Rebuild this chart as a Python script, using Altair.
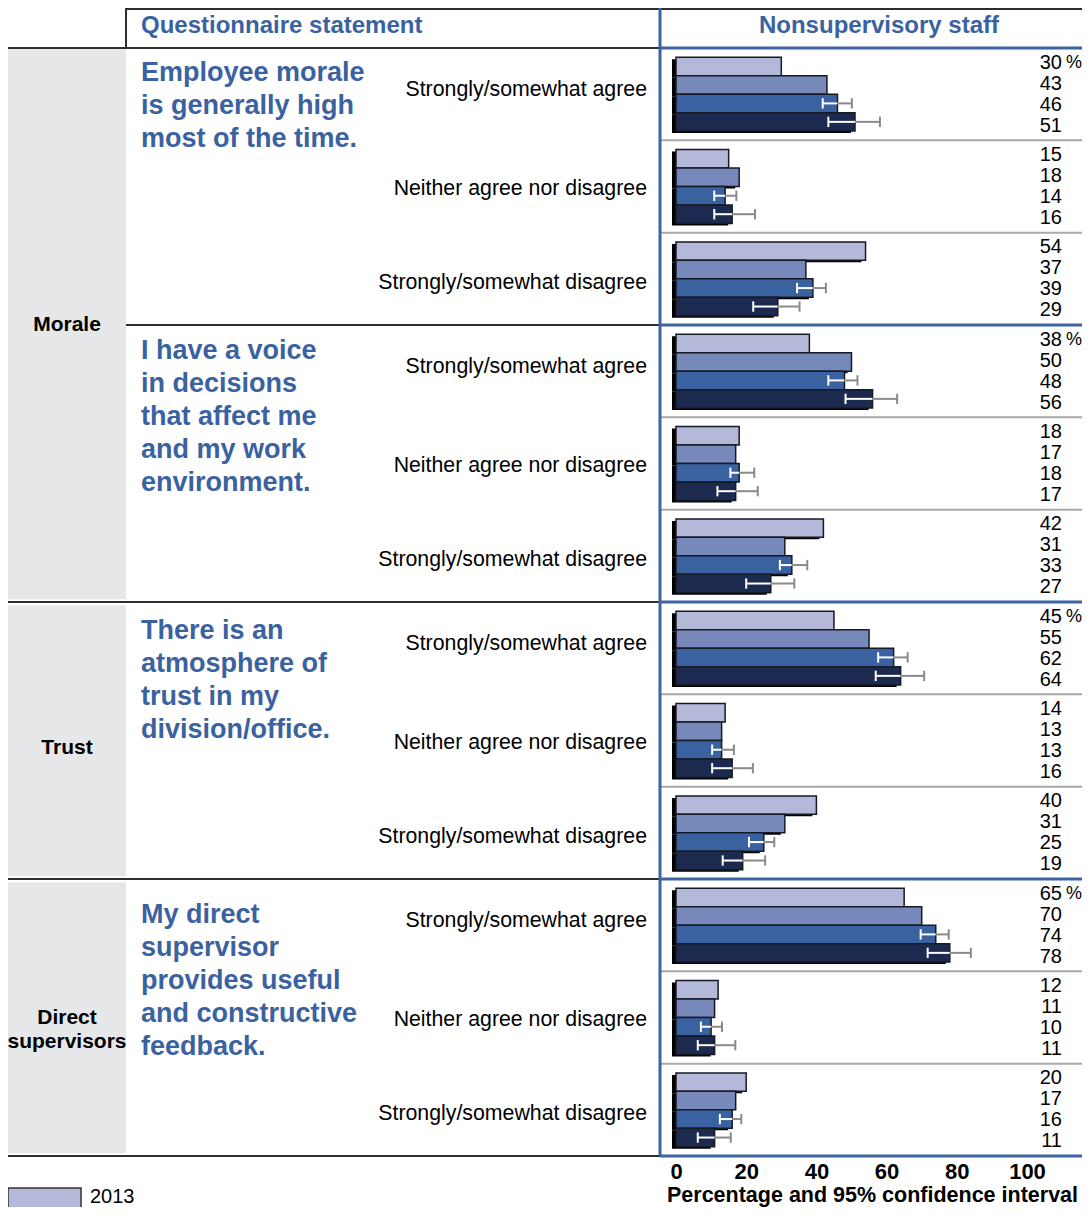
import altair as alt
import pandas as pd

# ---------------- data ----------------
categories = ["Morale", "Trust", "Direct supervisors"]
statement_category = [0, 0, 1, 2]
statements = [
    ["Employee morale", "is generally high", "most of the time."],
    ["I have a voice", "in decisions", "that affect me", "and my work", "environment."],
    ["There is an", "atmosphere of", "trust in my", "division/office."],
    ["My direct", "supervisor", "provides useful", "and constructive", "feedback."],
]
responses = ["Strongly/somewhat agree", "Neither agree nor disagree", "Strongly/somewhat disagree"]
years = ["2013", "2015", "2017", "2019"]
year_colors = ["#b4b9d9", "#7788ba", "#3a62a0", "#1b2a4e"]

# percentages: statement x response x year
values = [
    [[30, 43, 46, 51], [15, 18, 14, 16], [54, 37, 39, 29]],
    [[38, 50, 48, 56], [18, 17, 18, 17], [42, 31, 33, 27]],
    [[45, 55, 62, 64], [14, 13, 13, 16], [40, 31, 25, 19]],
    [[65, 70, 74, 78], [12, 11, 10, 11], [20, 17, 16, 11]],
]
# 95% confidence intervals for the last two years
ci_low = [
    [[41.8, 43.4], [10.9, 10.9], [34.5, 22.0]],
    [[43.4, 48.3], [15.5, 11.8], [29.6, 20.0]],
    [[57.6, 56.9], [10.3, 10.3], [20.8, 13.3]],
    [[69.7, 71.7], [7.1, 6.2], [12.5, 6.2]],
]
ci_high = [
    [[50.1, 58.1], [17.2, 22.5], [42.7, 35.2]],
    [[51.7, 63.0], [22.3, 23.3], [37.4, 33.7]],
    [[66.0, 70.7], [16.5, 21.9], [28.0, 25.4]],
    [[77.7, 84.0], [13.1, 16.9], [18.6, 15.6]],
]
axis_ticks = [0, 20, 40, 60, 80, 100]
header_left = "Questionnaire statement"
header_right = "Nonsupervisory staff"
axis_title = "Percentage and 95% confidence interval"

# ---------------- layout ----------------
FONT = "Liberation Sans"
BLUE = "#3b62a0"
LINE_BLUE = "#3e63a3"
PLOT_W = 1074
PLOT_H = 1148
HEADER_H = 40
U = (PLOT_H - HEADER_H) / 60.0          # px per row unit
X0_PX = 668.0                           # plot px of value 0
PX_PER = 3.51                           # px per percentage point
x_dom = [-X0_PX / PX_PER, (PLOT_W - X0_PX) / PX_PER]
y_dom = [-HEADER_H / U, 60]
PANEL_X = 652
LEFT_COL = 118

xs = alt.Scale(domain=x_dom, nice=False, zero=False)
ys = alt.Scale(domain=y_dom, reverse=True, nice=False, zero=False)
xaxis = alt.Axis(values=axis_ticks, title=axis_title, domain=False, ticks=False, tickSize=0,
                 grid=False, labelFont=FONT, labelFontSize=22, labelFontWeight="bold",
                 labelColor="black", labelPadding=5, titleFont=FONT, titleFontSize=21.5,
                 titleFontWeight="bold", titleColor="black", titleX=864, titleY=39,
                 titleAlign="center", titleBaseline="middle")


def X(f):
    return alt.X(f, type="quantitative", scale=xs, axis=xaxis)


def Y(f):
    return alt.Y(f, type="quantitative", scale=ys, axis=None)


bar_rows, err_rows, resp_rows = [], [], []
resp_off = [-0.23, 0.12, 0.22]
for s in range(len(statements)):
    for r in range(len(responses)):
        center = 15 * s + 5 * r + 2.5
        resp_rows.append({"y": center + resp_off[r], "text": responses[r]})
        for k in range(len(years)):
            top = 15 * s + 5 * r + 0.5 + k
            v = values[s][r][k]
            bar_rows.append({"year": years[k], "start": 0, "value": v, "top": top, "bot": top + 1,
                             "lab_y": center + (k - 1.5) * 1.137, "label": str(v),
                             "first": (r == 0 and k == 0)})
            if k >= 2:
                yc = top + 0.5
                err_rows.append({"value": v, "low": ci_low[s][r][k - 2], "high": ci_high[s][r][k - 2],
                                 "yc": yc, "c1": yc - 0.28, "c2": yc + 0.28})
bars = pd.DataFrame(bar_rows)
errs = pd.DataFrame(err_rows)
resp_df = pd.DataFrame(resp_rows)

# statement text lines
first_off = [25, 26, 29, 36]
st_rows = []
for s, lines in enumerate(statements):
    for i, line in enumerate(lines):
        st_rows.append({"y": 15 * s + (first_off[s] + 33 * i) / U, "text": line})
st_df = pd.DataFrame(st_rows)

# category blocks
cat_rows = []
for c, name in enumerate(categories):
    idx = [s for s, cc in enumerate(statement_category) if cc == c]
    y1, y2 = 15 * min(idx), 15 * (max(idx) + 1)
    cat_rows.append({"name": name, "y1": y1 + (0.17 if y1 > 0 else 0), "y2": y2 - 0.15,
                     "yc": (y1 + y2) / 2 + (0.4 if name == "Trust" else 0)})
cat_df = pd.DataFrame(cat_rows)

black_full = pd.DataFrame({"u": [0] + [15 * (max(s for s, cc in enumerate(statement_category) if cc == c) + 1)
                                       for c in range(len(categories))]})
black_part = pd.DataFrame({"u": [15 * s for s in range(1, len(statements))
                                 if statement_category[s] == statement_category[s - 1]]})
blue_lines = pd.DataFrame({"u": [15 * s for s in range(len(statements) + 1)]})
gray_lines = pd.DataFrame({"u": [15 * s + 5 * r for s in range(len(statements)) for r in (1, 2)]})
one = pd.DataFrame({"a": [0]})

fill_scale = alt.Scale(domain=years, range=year_colors)

layers = []
# left gray column
layers.append(alt.Chart(cat_df).mark_rect(color="#e6e7e9").encode(
    x=alt.value(0), x2=alt.value(LEFT_COL), y=Y("y1"), y2=alt.Y2("y2")))
# lines
layers.append(alt.Chart(black_full).mark_rule(color="#2e2e2e", strokeWidth=2).encode(
    x=alt.value(0), x2=alt.value(PANEL_X), y=Y("u")))
layers.append(alt.Chart(black_part).mark_rule(color="#2e2e2e", strokeWidth=2).encode(
    x=alt.value(LEFT_COL), x2=alt.value(PANEL_X), y=Y("u")))
layers.append(alt.Chart(gray_lines).mark_rule(color="#a9a9a9", strokeWidth=2).encode(
    x=alt.value(PANEL_X), x2=alt.value(PLOT_W), y=Y("u")))
layers.append(alt.Chart(blue_lines).mark_rule(color=LINE_BLUE, strokeWidth=3).encode(
    x=alt.value(PANEL_X), x2=alt.value(PLOT_W), y=Y("u")))
layers.append(alt.Chart(one).mark_rule(color="#2e2e2e", strokeWidth=2).encode(
    x=alt.value(LEFT_COL), x2=alt.value(PLOT_W), y=alt.value(1)))
layers.append(alt.Chart(one).mark_rule(color="#2e2e2e", strokeWidth=2).encode(
    x=alt.value(LEFT_COL), y=alt.value(0), y2=alt.value(HEADER_H)))
layers.append(alt.Chart(one).mark_rule(color=LINE_BLUE, strokeWidth=3).encode(
    x=alt.value(PANEL_X), y=alt.value(0), y2=alt.value(PLOT_H)))
# headers
layers.append(alt.Chart(one).mark_text(text=header_left, font=FONT, fontSize=24, fontWeight="bold",
                                       color=BLUE, align="left", baseline="middle").encode(
    x=alt.value(133), y=alt.value(18)))
layers.append(alt.Chart(one).mark_text(text=header_right, font=FONT, fontSize=24, fontWeight="bold",
                                       color=BLUE, align="center", baseline="middle").encode(
    x=alt.value(871), y=alt.value(18)))
# category labels
layers.append(alt.Chart(cat_df).mark_text(font=FONT, fontSize=21, fontWeight="bold", color="black",
                                          align="center", baseline="middle", lineBreak=" ",
                                          lineHeight=24).encode(
    x=alt.value(LEFT_COL / 2), y=Y("yc"), text="name:N"))
# statements
layers.append(alt.Chart(st_df).mark_text(font=FONT, fontSize=27, fontWeight="bold", color=BLUE,
                                         align="left", baseline="middle").encode(
    x=alt.value(133), y=Y("y"), text="text:N"))
# response labels
layers.append(alt.Chart(resp_df).mark_text(font=FONT, fontSize=21.3, color="black",
                                           align="right", baseline="middle").encode(
    x=alt.value(639), y=Y("y"), text="text:N"))
# bar shadows and bars
layers.append(alt.Chart(bars).mark_rect(color="black", xOffset=-4, x2Offset=-4, yOffset=2, y2Offset=2).encode(
    x=X("start"), x2=alt.X2("value"), y=Y("top"), y2=alt.Y2("bot")))
layers.append(alt.Chart(bars).mark_rect(stroke="#161a26", strokeWidth=1.5).encode(
    x=X("start"), x2=alt.X2("value"), y=Y("top"), y2=alt.Y2("bot"),
    fill=alt.Fill("year:N", scale=fill_scale, legend=None)))
# error bars
layers.append(alt.Chart(errs).mark_rule(color="white", strokeWidth=2).encode(
    x=X("low"), x2=alt.X2("value"), y=Y("yc")))
layers.append(alt.Chart(errs).mark_rule(color="#8a8a8a", strokeWidth=2).encode(
    x=X("value"), x2=alt.X2("high"), y=Y("yc")))
layers.append(alt.Chart(errs).mark_rule(color="white", strokeWidth=2).encode(
    x=X("low"), y=Y("c1"), y2=alt.Y2("c2")))
layers.append(alt.Chart(errs).mark_rule(color="#8a8a8a", strokeWidth=2).encode(
    x=X("high"), y=Y("c1"), y2=alt.Y2("c2")))
# value labels
layers.append(alt.Chart(bars).mark_text(font=FONT, fontSize=20, color="black", align="right",
                                        baseline="middle").encode(
    x=alt.value(1054), y=Y("lab_y"), text="label:N"))
layers.append(alt.Chart(bars).transform_filter("datum.first").mark_text(
    text="%", font=FONT, fontSize=18, color="black", align="left", baseline="middle").encode(
    x=alt.value(1058), y=Y("lab_y")))
# legend (first entry)
leg = pd.DataFrame({"year": [years[0]]})
layers.append(alt.Chart(leg).mark_rect(stroke="#333333", strokeWidth=1.5).encode(
    x=alt.value(0), x2=alt.value(73), y=alt.value(1180), y2=alt.value(1205),
    fill=alt.Fill("year:N", scale=fill_scale, legend=None)))
layers.append(alt.Chart(leg).mark_text(font=FONT, fontSize=20, color="black", align="left",
                                       baseline="middle").encode(
    x=alt.value(82), y=alt.value(1189), text="year:N"))

chart = alt.layer(*layers).properties(
    width=PLOT_W, height=PLOT_H, background="white",
    padding={"left": 0, "top": 0, "right": 0, "bottom": 51},
    autosize=alt.AutoSizeParams(type="none"),
).configure_view(stroke=None)

chart.save("out.html", embed_options={"renderer": "svg", "actions": False})
